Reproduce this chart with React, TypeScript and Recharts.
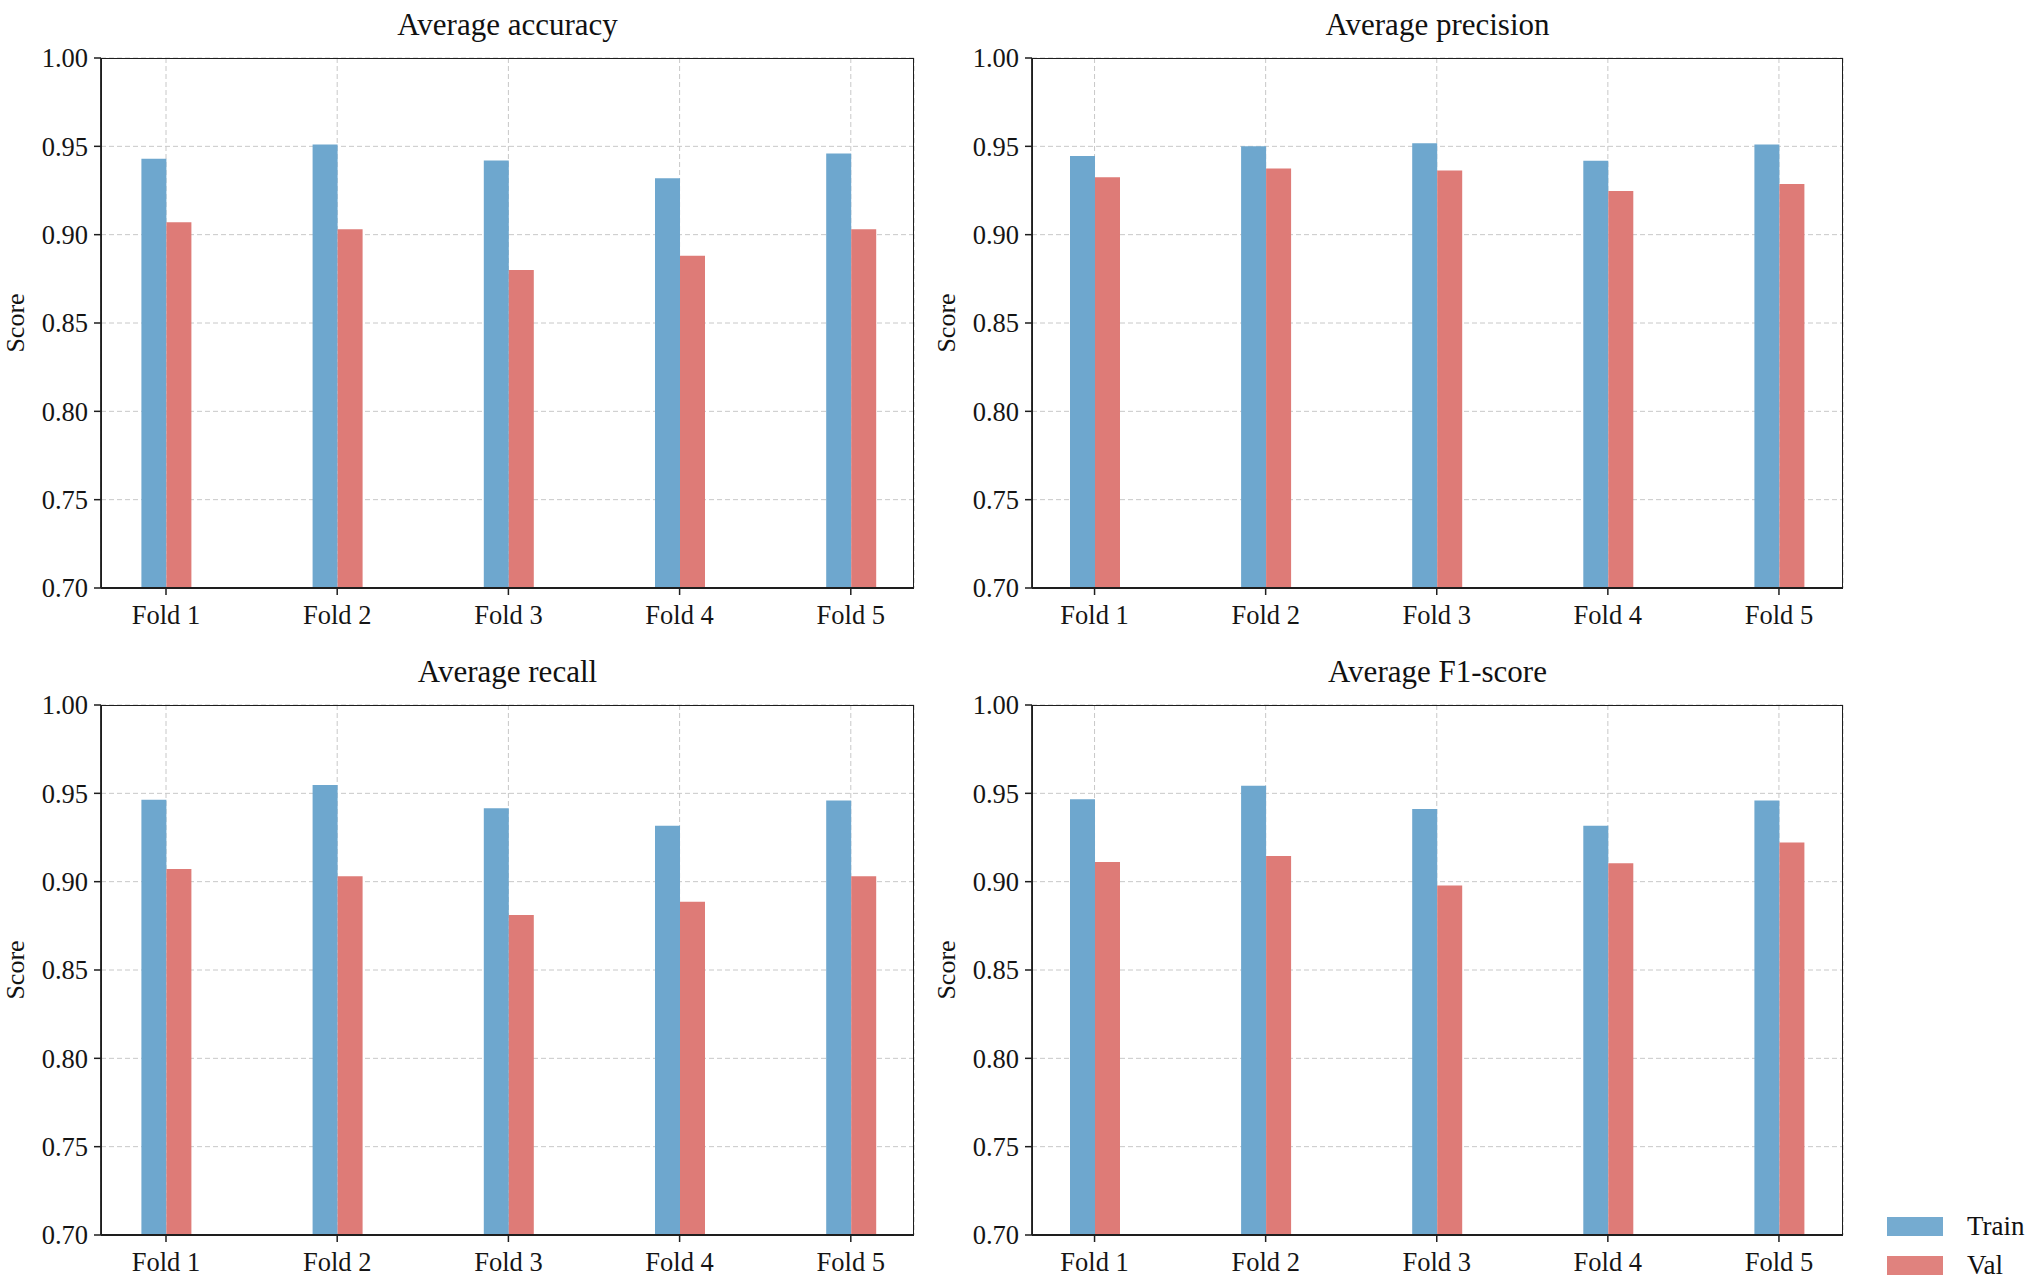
import React from 'react';
import { BarChart, Bar, XAxis, YAxis, CartesianGrid, Legend } from 'recharts';

const folds = ['Fold 1', 'Fold 2', 'Fold 3', 'Fold 4', 'Fold 5'];
const yTicks = [0.7, 0.75, 0.8, 0.85, 0.9, 0.95, 1.0];

const accTrain = [0.943, 0.951, 0.942, 0.932, 0.946];
const accVal = [0.907, 0.903, 0.880, 0.888, 0.903];
const precTrain = [0.9445, 0.950, 0.9517, 0.9418, 0.951];
const precVal = [0.9325, 0.9375, 0.9363, 0.9247, 0.9287];
const recTrain = [0.9464, 0.9547, 0.9415, 0.9317, 0.9459];
const recVal = [0.9072, 0.903, 0.8811, 0.8887, 0.903];
const f1Train = [0.9466, 0.9543, 0.9411, 0.9317, 0.946];
const f1Val = [0.9111, 0.9145, 0.8979, 0.9104, 0.9221];

const FONT = '"Liberation Serif", "Times New Roman", serif';
const TRAIN_COLOR = '#6EA7CE';
const VAL_COLOR = '#DE7B77';
const AXIS = '#1e1e1e';

type PanelProps = {
  title: string;
  train: number[];
  val: number[];
  plotLeft: number;
  plotTop: number;
  plotW: number;
  padL: number;
  padR: number;
  extraRight?: number;
  legend?: boolean;
};

function LegendContent(props: any) {
  const payload = props.payload || [];
  return (
    <div style={{ fontFamily: FONT }}>
      {payload.map((p: any, i: number) => (
        <div key={i} style={{ display: 'flex', alignItems: 'center', height: 39 }}>
          <div style={{ width: 56, height: 19, background: p.color, opacity: 0.95 }} />
          <span style={{ marginLeft: 24, fontSize: 27, color: '#111', lineHeight: '27px' }}>{p.value}</span>
        </div>
      ))}
    </div>
  );
}

function Panel({ title, train, val, plotLeft, plotTop, plotW, padL, padR, extraRight, legend }: PanelProps) {
  const ML = 100;
  const MT = 57;
  const PH = 530;
  const XH = 50;
  const YW = 80;
  const chartLeft = plotLeft - ML;
  const chartTop = plotTop - MT;
  const width = ML + plotW + (extraRight ?? 30);
  const height = MT + PH + XH;
  const data = folds.map((f, i) => ({ fold: f, train: train[i], val: val[i] }));
  const tickStyle = { fontFamily: FONT, fontSize: 26.5, fill: '#151515' };
  return (
    <>
      <div style={{ position: 'absolute', left: chartLeft, top: chartTop }}>
        <BarChart
          width={width}
          height={height}
          data={data}
          margin={{ top: MT, left: ML - YW, right: width - ML - plotW, bottom: 0 }}
          barGap={0}
          barCategoryGap={0}
        >
          <CartesianGrid stroke="#c8c8c8" strokeDasharray="5 3" strokeWidth={1} />
          <XAxis
            dataKey="fold"
            height={XH}
            padding={{ left: padL, right: padR }}
            interval={0}
            tick={tickStyle}
            tickSize={7}
            tickMargin={10}
            axisLine={{ stroke: AXIS, strokeWidth: 1.8 }}
            tickLine={{ stroke: AXIS, strokeWidth: 1.5 }}
          />
          <YAxis
            width={YW}
            domain={[0.7, 1.0]}
            ticks={yTicks}
            interval={0}
            tickFormatter={(v: number) => v.toFixed(2)}
            tick={tickStyle}
            tickSize={7}
            tickMargin={6}
            axisLine={{ stroke: AXIS, strokeWidth: 1.8 }}
            tickLine={{ stroke: AXIS, strokeWidth: 1.5 }}
          />
          <Bar dataKey="train" name="Train" fill={TRAIN_COLOR} barSize={25} isAnimationActive={false} />
          <Bar dataKey="val" name="Val" fill={VAL_COLOR} barSize={25} isAnimationActive={false} />
          {legend && (
            <Legend
              layout="vertical"
              align="center"
              verticalAlign="middle"
              content={<LegendContent />}
              wrapperStyle={{ position: 'absolute', left: 1887 - chartLeft, top: 1207 - chartTop, width: 140, height: 80, bottom: 'auto', right: 'auto' }}
            />
          )}
        </BarChart>
      </div>
      <div
        style={{
          position: 'absolute',
          left: plotLeft,
          top: plotTop,
          width: plotW,
          height: PH,
          boxSizing: 'border-box',
          border: `1.8px solid ${AXIS}`,
          pointerEvents: 'none',
        }}
      />
      <div
        style={{
          position: 'absolute',
          left: plotLeft,
          width: plotW,
          top: plotTop - 48,
          textAlign: 'center',
          fontFamily: FONT,
          fontSize: 31,
          lineHeight: '30px',
          color: '#111',
          whiteSpace: 'nowrap',
        }}
      >
        {title}
      </div>
      <div
        style={{
          position: 'absolute',
          left: plotLeft - 85,
          top: plotTop + PH / 2,
          transform: 'translate(-50%, -50%) rotate(-90deg)',
          fontFamily: FONT,
          fontSize: 26,
          lineHeight: '26px',
          color: '#111',
          whiteSpace: 'nowrap',
        }}
      >
        Score
      </div>
    </>
  );
}

export default function App() {
  return (
    <div
      style={{
        position: 'absolute',
        left: 0,
        top: 0,
        width: 2027,
        height: 1287,
        background: '#ffffff',
        overflow: 'hidden',
      }}
    >
      <Panel title="Average accuracy" train={accTrain} val={accVal} plotLeft={101} plotTop={57.5} plotW={813} padL={-20.6} padR={-22.4} />
      <Panel title="Average precision" train={precTrain} val={precVal} plotLeft={1032} plotTop={57.5} plotW={811} padL={-23} padR={-21.5} />
      <Panel title="Average recall" train={recTrain} val={recVal} plotLeft={101} plotTop={705} plotW={813} padL={-20.6} padR={-22.4} />
      <Panel
        title="Average F1-score"
        train={f1Train}
        val={f1Val}
        plotLeft={1032}
        plotTop={705}
        plotW={811}
        padL={-23}
        padR={-21.5}
        extraRight={184}
        legend
      />
    </div>
  );
}
